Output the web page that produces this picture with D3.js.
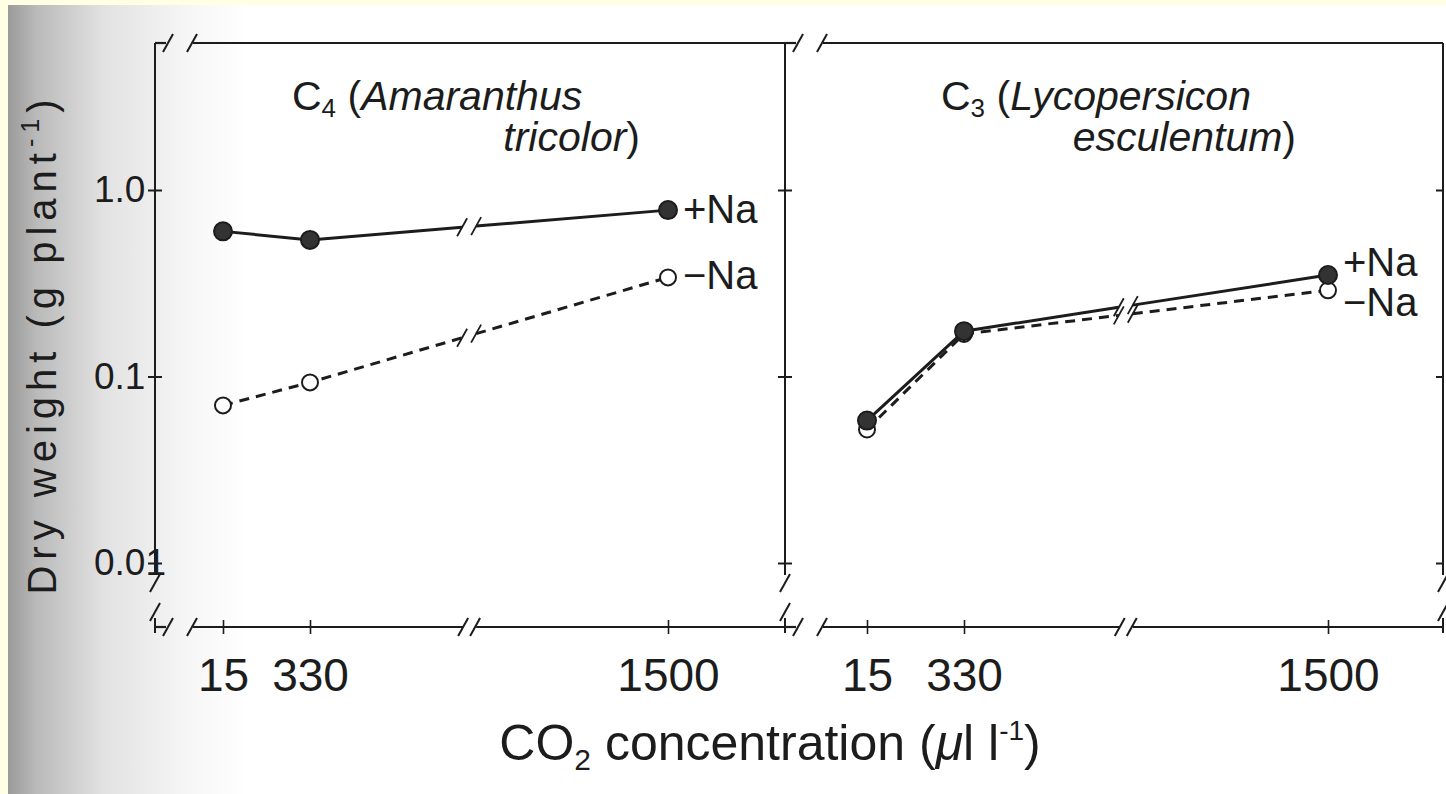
<!DOCTYPE html>
<html>
<head>
<meta charset="utf-8">
<script src="https://cdn.jsdelivr.net/npm/d3@7"></script>
<style>
  html, body { margin: 0; padding: 0; background: #ffffe3; }
  svg { display: block; }
  text { font-family: "Liberation Sans", Arial, Helvetica, sans-serif; fill: #1c1c1c; }
</style>
</head>
<body>
<div class="canvas"></div>
<script>
// data
const concentrations = [15, 330, 1500];
const xTickLabels = ["15", "330", "1500"];
const c4PlusNa = [0.6, 0.54, 0.78];
const c4MinusNa = [0.07, 0.093, 0.34];
const c3PlusNa = [0.058, 0.175, 0.35];
const c3MinusNa = [0.052, 0.169, 0.29];
const yTicks = [0.01, 0.1, 1];
const yTickLabels = ["0.01", "0.1", "1.0"];
const xBreak = 850; // where the CO2 axis is broken

const dims = { width: 1446, height: 794 };
const frame = { top: 43, bottom: 627, yEnd: 575 };
const ink = "#1c1c1c";

const svg = d3
  .select(".canvas")
  .append("svg")
  .attr("width", dims.width)
  .attr("height", dims.height);

// scanned page + grey shading at the binding
const defs = svg.append("defs");
const shade = defs.append("linearGradient").attr("id", "shade");
[["0%", "#9a9a9a"], ["12%", "#bababa"], ["40%", "#e2e2e2"], ["75%", "#f6f6f6"], ["100%", "#ffffff"]]
  .forEach(([o, c]) => shade.append("stop").attr("offset", o).attr("stop-color", c));

svg.append("rect").attr("x", 8).attr("y", 5)
  .attr("width", dims.width - 8).attr("height", dims.height - 5).attr("fill", "#ffffff");
svg.append("rect").attr("x", 8).attr("y", 5)
  .attr("width", 240).attr("height", dims.height - 5).attr("fill", "url(#shade)");

const y = d3.scaleLog().domain([0.01, 1]).range([563, 190]);

const panels = [
  {
    sub: "4", genus: "Amaranthus", species: "tricolor",
    left: 155, right: 785, xRange: [223, 310, 668],
    titleX: 292, titleEnd: 640,
    plus: c4PlusNa, minus: c4MinusNa,
    labelDy: { plus: 13, minus: 12 },
  },
  {
    sub: "3", genus: "Lycopersicon", species: "esculentum",
    left: 785, right: 1443, xRange: [867, 964, 1328],
    titleX: 941, titleEnd: 1296,
    plus: c3PlusNa, minus: c3MinusNa,
    labelDy: { plus: 1, minus: 26 },
  },
];

const line = d3.line();

const slash = (g, cx, cy, w = 2) =>
  g.append("line")
    .attr("x1", cx - 5).attr("y1", cy + 9)
    .attr("x2", cx + 5).attr("y2", cy - 9)
    .attr("stroke", ink).attr("stroke-width", w);

const hseg = (g, x1, x2, yy) =>
  g.append("line").attr("x1", x1).attr("x2", x2).attr("y1", yy).attr("y2", yy)
    .attr("stroke", ink).attr("stroke-width", 2.2);

const vseg = (g, xx, y1, y2) =>
  g.append("line").attr("x1", xx).attr("x2", xx).attr("y1", y1).attr("y2", y2)
    .attr("stroke", ink).attr("stroke-width", 2);

const frameG = svg.append("g");

// vertical borders with their lower breaks
[155, 785, 1443].forEach((xx) => {
  vseg(frameG, xx, frame.top, frame.yEnd);
  slash(frameG, xx, 583, 2);
  slash(frameG, xx, 612, 2);
  vseg(frameG, xx, 618, frame.bottom + 6);
});

panels.forEach((p, pi) => {
  const x = d3.scaleLinear().domain(concentrations).range(p.xRange);
  const bx = x(xBreak);
  const g = svg.append("g");

  // top border and x axis line, with breaks
  const startGap = [p.left + 13, p.left + 37];
  [frame.top, frame.bottom].forEach((yy) => {
    hseg(g, p.left, startGap[0] - 2, yy);
    slash(g, startGap[0], yy);
    slash(g, startGap[1], yy);
    if (yy === frame.bottom) {
      hseg(g, startGap[1] + 1, bx - 6, yy);
      slash(g, bx - 6, yy);
      slash(g, bx + 6, yy);
      hseg(g, bx + 7, p.right, yy);
    } else {
      hseg(g, startGap[1] + 1, p.right, yy);
    }
  });

  // x axis ticks + labels
  g.append("g")
    .attr("transform", `translate(0, ${frame.bottom})`)
    .call(d3.axisBottom(x).tickValues(concentrations)
      .tickFormat((d, i) => xTickLabels[i]).tickSize(7).tickPadding(24))
    .call((a) => a.select(".domain").remove())
    .call((a) => a.attr("font-size", null).attr("font-family", null))
    .call((a) => a.selectAll(".tick line").attr("y1", -7).attr("stroke", ink).attr("stroke-width", 1.6))
    .call((a) => a.selectAll(".tick text").attr("font-size", 46).attr("fill", ink));

  // y ticks on the left border of each panel
  const yAxis = pi === 0
    ? d3.axisLeft(y).tickValues(yTicks).tickFormat((d, i) => yTickLabels[i])
    : d3.axisRight(y).tickValues(yTicks).tickFormat("");
  g.append("g")
    .attr("transform", `translate(${p.left}, 0)`)
    .call(yAxis.tickSize(7))
    .call((a) => a.select(".domain").remove())
    .call((a) => a.attr("font-size", null).attr("font-family", null))
    .call((a) => a.selectAll(".tick line").attr("x1", pi === 0 ? 7 : -7).attr("stroke", ink).attr("stroke-width", 2))
    .call((a) => a.selectAll(".tick text")
      .attr("text-anchor", "start").attr("x", 94 - p.left).attr("font-size", 37).attr("fill", ink));

  if (pi === 1) {
    g.append("g")
      .attr("transform", `translate(${p.right}, 0)`)
      .call(d3.axisLeft(y).tickValues(yTicks).tickFormat("").tickSize(7))
      .call((a) => a.select(".domain").remove())
      .call((a) => a.selectAll(".tick line").attr("stroke", ink).attr("stroke-width", 2));
  }

  // panel title
  const t1 = g.append("text").attr("x", p.titleX).attr("y", 110).attr("font-size", 41);
  t1.append("tspan").text("C");
  t1.append("tspan").attr("font-size", 26).attr("dy", 7).text(p.sub);
  t1.append("tspan").attr("dy", -7).text(" (");
  t1.append("tspan").attr("font-style", "italic").text(p.genus);
  const t2 = g.append("text").attr("x", p.titleEnd).attr("y", 151)
    .attr("font-size", 41).attr("text-anchor", "end");
  t2.append("tspan").attr("font-style", "italic").text(p.species);
  t2.append("tspan").text(")");

  // series: -Na dashed / open, +Na solid / filled
  const series = [
    { key: "minus", values: p.minus, label: "\u2212Na", dash: "10,7", fill: "#ffffff", r: 8 },
    { key: "plus", values: p.plus, label: "+Na", dash: null, fill: "#333333", r: 9 },
  ];

  series.forEach((s) => {
    const pts = concentrations.map((c, i) => [x(c), y(s.values[i])]);
    const a = pts[1], b = pts[2];
    const yAt = (xx) => a[1] + ((b[1] - a[1]) * (xx - a[0])) / (b[0] - a[0]);
    const gap = 7;
    const before = [pts[0], a, [bx - gap, yAt(bx - gap)]];
    const after = [[bx + gap, yAt(bx + gap)], b];

    [before, after].forEach((seg) => {
      g.append("path")
        .attr("d", line(seg))
        .attr("fill", "none")
        .attr("stroke", ink)
        .attr("stroke-width", 3)
        .attr("stroke-dasharray", s.dash);
    });
    slash(g, bx - gap, yAt(bx - gap), 1.8);
    slash(g, bx + gap, yAt(bx + gap), 1.8);

    g.selectAll(null)
      .data(pts)
      .enter()
      .append("circle")
      .attr("cx", (d) => d[0])
      .attr("cy", (d) => d[1])
      .attr("r", s.r)
      .attr("fill", s.fill)
      .attr("stroke", ink)
      .attr("stroke-width", 2);

    g.append("text")
      .attr("x", b[0] + 15)
      .attr("y", b[1] + p.labelDy[s.key])
      .attr("font-size", 40)
      .text(s.label);
  });
});

// axis titles
const xt = svg.append("text").attr("x", 770).attr("y", 760)
  .attr("text-anchor", "middle").attr("font-size", 50);
xt.append("tspan").text("CO");
xt.append("tspan").attr("font-size", 30).attr("dy", 10).text("2");
xt.append("tspan").attr("dy", -10).text(" concentration (");
xt.append("tspan").attr("font-style", "italic").text("\u03bc");
xt.append("tspan").text("l l");
xt.append("tspan").attr("font-size", 28).attr("dy", -20).text("-1");
xt.append("tspan").attr("dy", 20).text(")");

const yt = svg.append("text")
  .attr("transform", "translate(56, 344) rotate(-90)")
  .attr("text-anchor", "middle").attr("font-size", 40).attr("letter-spacing", 6);
yt.append("tspan").text("Dry weight (g plant");
yt.append("tspan").attr("font-size", 25).attr("dy", -17).text("-1");
yt.append("tspan").attr("dy", 17).text(")");
</script>
</body>
</html>
